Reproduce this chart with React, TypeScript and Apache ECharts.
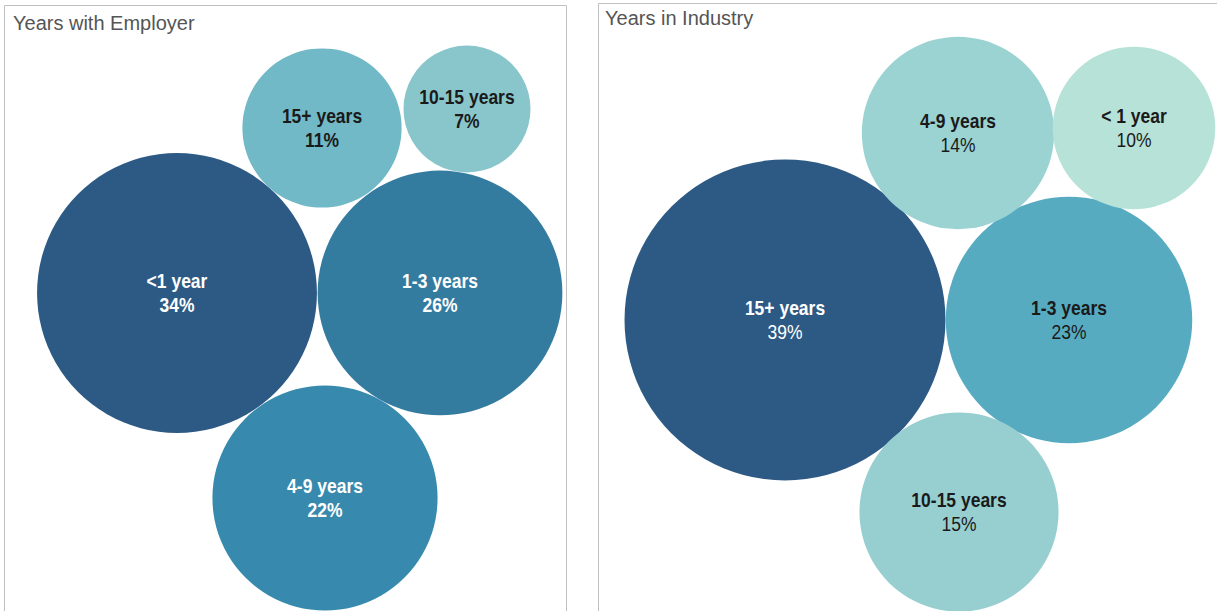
import React, { useEffect, useRef } from "react";
import * as echarts from "echarts";

// Years with Employer
const employerCategories = ["<1 year", "1-3 years", "4-9 years", "15+ years", "10-15 years"];
const employerPercent = [34, 26, 22, 11, 7];
const employerCenterX = [172, 435, 320, 317, 462];
const employerCenterY = [288, 288, 493, 123, 104];
const employerColors = ["#2d5a84", "#347ba0", "#378aad", "#72b9c7", "#89c6cc"];
const employerLabelColors = ["#ffffff", "#ffffff", "#ffffff", "#1a1a1a", "#1a1a1a"];

// Years in Industry
const industryCategories = ["15+ years", "1-3 years", "4-9 years", "< 1 year", "10-15 years"];
const industryPercent = [39, 23, 14, 10, 15];
const industryCenterX = [187, 471, 360, 536, 361];
const industryCenterY = [317, 317, 130, 125, 509];
const industryColors = ["#2d5a84", "#57abc1", "#9bd3d3", "#b7e2d7", "#97cfd1"];
const industryLabelColors = ["#ffffff", "#1a1a1a", "#1a1a1a", "#1a1a1a", "#1a1a1a"];

const LABEL_FONT = "'Liberation Sans', Arial, sans-serif";
const TITLE_FONT = "'Liberation Sans', Arial, sans-serif";

function buildData(cats: string[], pct: number[], xs: number[], ys: number[], colors: string[], labelColors: string[]) {
  return cats.map((c, i) => ({
    name: c,
    value: [xs[i], ys[i], pct[i]],
    itemStyle: { color: colors[i] },
    labelColor: labelColors[i],
  }));
}

function makeRenderItem(data: any[], radiusScale: number, boldPercent: boolean) {
  return (params: any, api: any) => {
    const d = data[params.dataIndex];
    const c = api.coord([api.value(0), api.value(1)]);
    const r = api.size([radiusScale * Math.sqrt(api.value(2)), 0])[0];
    const col = d.labelColor;
    return {
      type: "group",
      children: [
        {
          type: "circle",
          shape: { cx: c[0], cy: c[1], r },
          style: { fill: d.itemStyle.color },
        },
        {
          type: "text",
          x: c[0],
          y: c[1],
          scaleY: 1.12,
          style: {
            text: `{a|${d.name}}\n{b|${api.value(2)}%}`,
            align: "center",
            verticalAlign: "middle",
            rich: {
              a: { fontFamily: LABEL_FONT, fontWeight: "bold", fontSize: 17.5, lineHeight: 21.5, fill: col, align: "center" },
              b: { fontFamily: LABEL_FONT, fontWeight: boldPercent ? "bold" : "normal", fontSize: 17.5, lineHeight: 21.5, fill: col, align: "center" },
            },
          },
        },
      ],
    };
  };
}

export default function App() {
  const ref = useRef<HTMLDivElement>(null);
  useEffect(() => {
    document.body.style.margin = "0";
    if (!ref.current) return;
    const chart = echarts.init(ref.current, undefined, { renderer: "svg" });
    const empData = buildData(employerCategories, employerPercent, employerCenterX, employerCenterY, employerColors, employerLabelColors);
    const indData = buildData(industryCategories, industryPercent, industryCenterX, industryCenterY, industryColors, industryLabelColors);
    const hiddenAxis = { show: false, type: "value" as const };
    chart.setOption({
      animation: false,
      backgroundColor: "#ffffff",
      title: [
        { text: "Years with Employer", left: 8, top: 8, textStyle: { fontFamily: TITLE_FONT, fontSize: 20, fontWeight: "normal", color: "#555555" } },
        { text: "Years in Industry", left: 600, top: 3, textStyle: { fontFamily: TITLE_FONT, fontSize: 20, fontWeight: "normal", color: "#555555" } },
      ],
      grid: [
        { left: 5, top: 5, width: 561, height: 606 },
        { left: 598, top: 3, width: 619, height: 608 },
      ],
      xAxis: [
        { ...hiddenAxis, gridIndex: 0, min: 0, max: 561 },
        { ...hiddenAxis, gridIndex: 1, min: 0, max: 619 },
      ],
      yAxis: [
        { ...hiddenAxis, gridIndex: 0, min: 0, max: 606, inverse: true },
        { ...hiddenAxis, gridIndex: 1, min: 0, max: 608, inverse: true },
      ],
      graphic: [
        { type: "rect", shape: { x: 4.5, y: 5.5, width: 562, height: 640 }, style: { fill: "none", stroke: "#c0c0c0", lineWidth: 1 }, silent: true },
        { type: "rect", shape: { x: 598.5, y: 3.5, width: 660, height: 640 }, style: { fill: "none", stroke: "#c0c0c0", lineWidth: 1 }, silent: true },
      ],
      series: [
        {
          type: "custom",
          name: "Years with Employer",
          xAxisIndex: 0,
          yAxisIndex: 0,
          data: empData,
          clip: false,
          renderItem: makeRenderItem(empData, 24, true),
        },
        {
          type: "custom",
          name: "Years in Industry",
          xAxisIndex: 1,
          yAxisIndex: 1,
          data: indData,
          clip: false,
          renderItem: makeRenderItem(indData, 25.7, false),
        },
      ],
    });
    return () => chart.dispose();
  }, []);
  return <div ref={ref} style={{ width: 1217, height: 611 }} />;
}
